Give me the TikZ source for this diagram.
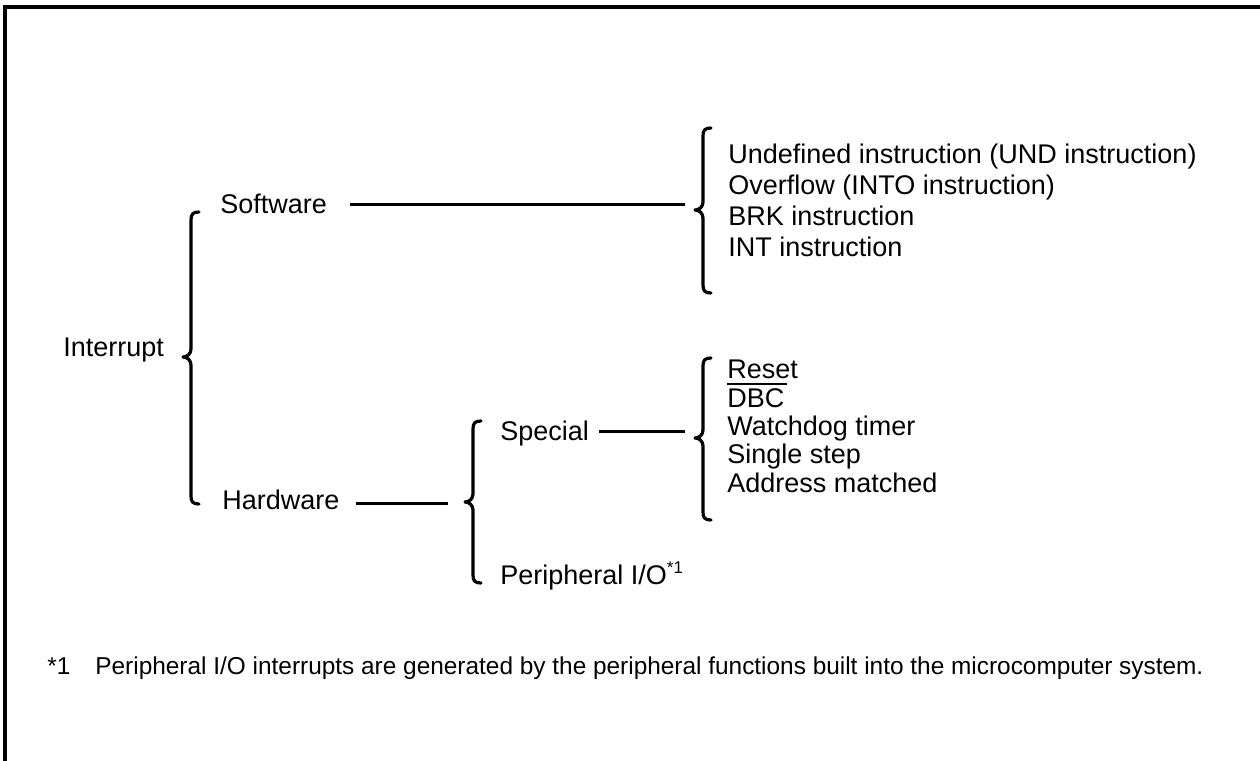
\documentclass[tikz,border=0pt]{standalone}
\usepackage{fontspec}
\setmainfont{Liberation Sans}
\newcommand\mybrace[4]{%
  \draw[brc] (#1+8,#2) .. controls (#1+2,#2) and (#1,#2+2) .. (#1,#2+8)
    -- (#1,#3-8) .. controls (#1,#3-3) and (#1-4,#3) .. (#1-8,#3)
    .. controls (#1-4,#3) and (#1,#3+3) .. (#1,#3+8)
    -- (#1,#4-8) .. controls (#1,#4-2) and (#1+2,#4) .. (#1+8,#4);}
\begin{document}
\begin{tikzpicture}[x=0.5pt,y=-0.5pt,
  lbl/.style={anchor=base west,inner sep=0pt,font=\fontsize{13.5}{16}\selectfont},
  note/.style={anchor=base west,inner sep=0pt,font=\fontsize{12.2}{14}\selectfont},
  conn/.style={line width=1.5pt},
  brc/.style={line width=1.6pt,line cap=round,line join=round}]
\useasboundingbox (0,0) rectangle (1260,761);
\fill[white] (0,0) rectangle (1260,761);
% frame (top and left only)
\draw[line width=1.8pt] (5,761) -- (5,7) -- (1260,7);

% texts
\node[lbl] (intr) at (63,356) {Interrupt};
\node[lbl] (sw) at (220,213) {Software};
\node[lbl] (hw) at (222,509) {Hardware};
\node[lbl] (sp) at (500,440) {Special};
\node[lbl] (pio) at (500,584) {Peripheral I/O\textsuperscript{\fontsize{8.5}{9}\selectfont *1}};

\node[lbl] (s1) at (728,163) {Undefined instruction (UND instruction)};
\node[lbl] (s2) at (728,194) {Overflow (INTO instruction)};
\node[lbl] (s3) at (728,225) {BRK instruction};
\node[lbl] (s4) at (728,256) {INT instruction};

\node[lbl] (h1) at (727,378) {Reset};
\node[lbl] (h2) at (727,407) {DBC};
\node[lbl] (h3) at (727,435) {Watchdog timer};
\node[lbl] (h4) at (727,463) {Single step};
\node[lbl] (h5) at (727,492) {Address matched};
\draw[line width=0.8pt] ([yshift=1.8pt]h2.north west) -- ([xshift=1pt,yshift=1.8pt]h2.north east);

\node[note] (fn1) at (47,674) {*1};
\node[note] (fn2) at (95,674) {Peripheral I/O interrupts are generated by the peripheral functions built into the microcomputer system.};

% braces
\mybrace{191}{212}{357}{504}
\mybrace{703}{128}{210}{293}
\mybrace{473}{421}{502}{583}
\mybrace{703}{358}{438}{520}

% connectors
\coordinate (swE) at (350,204);
\coordinate (b2W) at (685,204);
\coordinate (hwE) at (356,503);
\coordinate (b3W) at (448,503);
\coordinate (spE) at (599,431);
\coordinate (b4W) at (685,431);
\draw[conn] (swE) -- (b2W);
\draw[conn] (hwE) -- (b3W);
\draw[conn] (spE) -- (b4W);
\end{tikzpicture}
\end{document}
